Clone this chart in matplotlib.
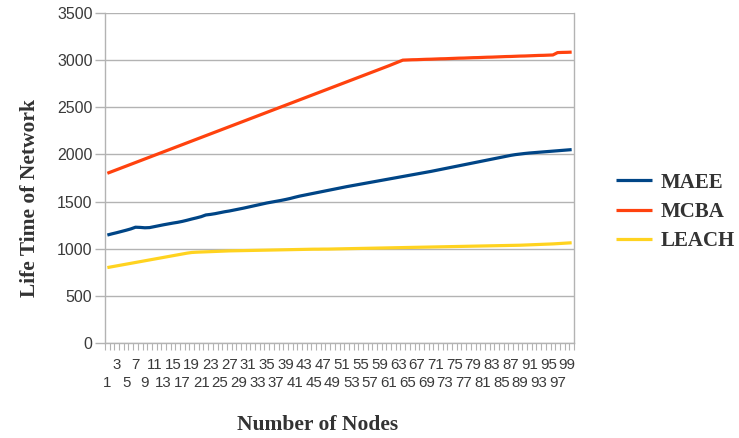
import matplotlib
matplotlib.use("Agg")
import matplotlib.pyplot as plt
from matplotlib.ticker import FixedLocator

nodes = list(range(1, 101))

maee = [1145, 1158, 1170, 1183, 1196, 1210, 1228, 1226, 1222, 1224,
        1234, 1244, 1254, 1263, 1272, 1280, 1290, 1302, 1315, 1327,
        1340, 1358, 1364, 1372, 1382, 1392, 1400, 1410, 1420, 1430,
        1441, 1452, 1463, 1474, 1485, 1494, 1503, 1512, 1522, 1533,
        1546, 1558, 1568, 1578, 1588, 1598, 1608, 1618, 1628, 1638,
        1648, 1658, 1667, 1676, 1685, 1694, 1703, 1712, 1721, 1730,
        1739, 1748, 1757, 1766, 1775, 1784, 1793, 1802, 1811, 1820,
        1830, 1840, 1850, 1860, 1870, 1880, 1890, 1900, 1910, 1920,
        1930, 1940, 1950, 1960, 1970, 1980, 1990, 1998, 2004, 2010,
        2015, 2019, 2023, 2027, 2031, 2035, 2039, 2043, 2047, 2051]

mcba = [1800, 1819, 1838, 1857, 1876, 1895, 1914, 1933, 1952, 1971,
        1990, 2009, 2028, 2047, 2066, 2085, 2104, 2123, 2142, 2161,
        2180, 2199, 2218, 2237, 2256, 2275, 2294, 2313, 2332, 2351,
        2370, 2389, 2408, 2427, 2446, 2465, 2484, 2503, 2522, 2541,
        2560, 2579, 2598, 2617, 2636, 2655, 2674, 2693, 2712, 2731,
        2750, 2769, 2788, 2807, 2826, 2845, 2864, 2883, 2902, 2921,
        2940, 2960, 2980, 3000, 3002, 3004, 3005, 3007, 3009, 3010,
        3012, 3014, 3015, 3017, 3019, 3021, 3022, 3024, 3026, 3027,
        3029, 3031, 3032, 3034, 3036, 3038, 3039, 3041, 3043, 3044,
        3046, 3048, 3050, 3051, 3053, 3055, 3080, 3082, 3083, 3085]

leach = [800, 809, 818, 827, 836, 845, 854, 863, 872, 881,
         890, 899, 908, 917, 926, 935, 944, 953, 960, 963,
         965, 967, 969, 971, 973, 975, 977, 978, 979, 980,
         981, 982, 983, 984, 985, 986, 987, 988, 989, 990,
         991, 992, 993, 994, 995, 995, 996, 996, 997, 998,
         999, 1000, 1001, 1002, 1003, 1004, 1005, 1006, 1007, 1008,
         1009, 1010, 1011, 1012, 1013, 1014, 1015, 1016, 1017, 1018,
         1019, 1020, 1021, 1022, 1023, 1024, 1025, 1026, 1027, 1028,
         1029, 1030, 1031, 1032, 1033, 1034, 1035, 1036, 1037, 1039,
         1041, 1043, 1045, 1047, 1049, 1051, 1054, 1057, 1060, 1063]

series_names = ["MAEE", "MCBA", "LEACH"]
series_colors = ["#004586", "#ff420e", "#ffd320"]
y_ticks = [0, 500, 1000, 1500, 2000, 2500, 3000, 3500]
top_row_labels = [n for n in nodes if n % 4 == 3]     # 3, 7, 11, ...
bottom_row_labels = [n for n in nodes if n % 4 == 1]  # 1, 5, 9, ...

W, H = 739, 438
fig = plt.figure(figsize=(W / 100, H / 100), dpi=100)
ax = fig.add_axes([105 / W, 1 - 343 / H, (574 - 105) / W, (343 - 13) / H])

for vals, name, col in zip([maee, mcba, leach], series_names, series_colors):
    ax.plot(nodes, vals, color=col, lw=2.3, label=name, solid_capstyle="butt")

ax.set_xlim(0.5, 100.5)
ax.set_ylim(0, 3500)

grey = "#b3b3b3"
for s in ax.spines.values():
    s.set_color(grey)
    s.set_linewidth(1.0)
ax.spines["top"].set_visible(False)

ax.set_yticks(y_ticks)
ax.set_yticklabels([str(v) for v in y_ticks], fontsize=11.5, color="#3a3a3a",
                   family="Liberation Sans")
ax.tick_params(axis="y", length=7, color=grey, width=1, pad=2)
ax.yaxis.grid(True, color=grey, lw=1.0)
ax.set_axisbelow(True)

tick_font = dict(fontsize=10.8, color="#3a3a3a", family="Liberation Sans")

# top row of category labels
ax.set_xticks(top_row_labels)
ax.set_xticklabels([str(n) for n in top_row_labels], **tick_font)
ax.tick_params(axis="x", which="major", length=0, pad=11)
ax.xaxis.set_minor_locator(FixedLocator([n + 0.5 for n in range(0, 101)]))
ax.tick_params(axis="x", which="minor", length=5, color=grey, width=0.8)

# bottom row of category labels
sec = ax.secondary_xaxis("bottom")
sec.set_xticks(bottom_row_labels)
sec.set_xticklabels([str(n) for n in bottom_row_labels], **tick_font)
sec.tick_params(axis="x", length=0, pad=24)
sec.spines["bottom"].set_visible(False)

fig.text(30 / W, 1 - 198 / H, "Life Time of Network", rotation=90, ha="center",
         va="center", fontsize=15.5, fontweight="bold", family="Liberation Serif",
         color="#333333")
fig.text(318 / W, 1 - 425 / H, "Number of Nodes", ha="center", va="center",
         fontsize=15.5, fontweight="bold", family="Liberation Serif", color="#333333")

leg = fig.legend(loc="center left", bbox_to_anchor=(616 / W, 1 - 212 / H),
                 frameon=False, prop={"family": "Liberation Serif", "weight": "bold",
                                      "size": 15},
                 handlelength=1.75, handletextpad=0.4, labelspacing=0.45,
                 borderaxespad=0, borderpad=0)
for t in leg.get_texts():
    t.set_color("#333333")

fig.savefig("out.png", dpi=100)
